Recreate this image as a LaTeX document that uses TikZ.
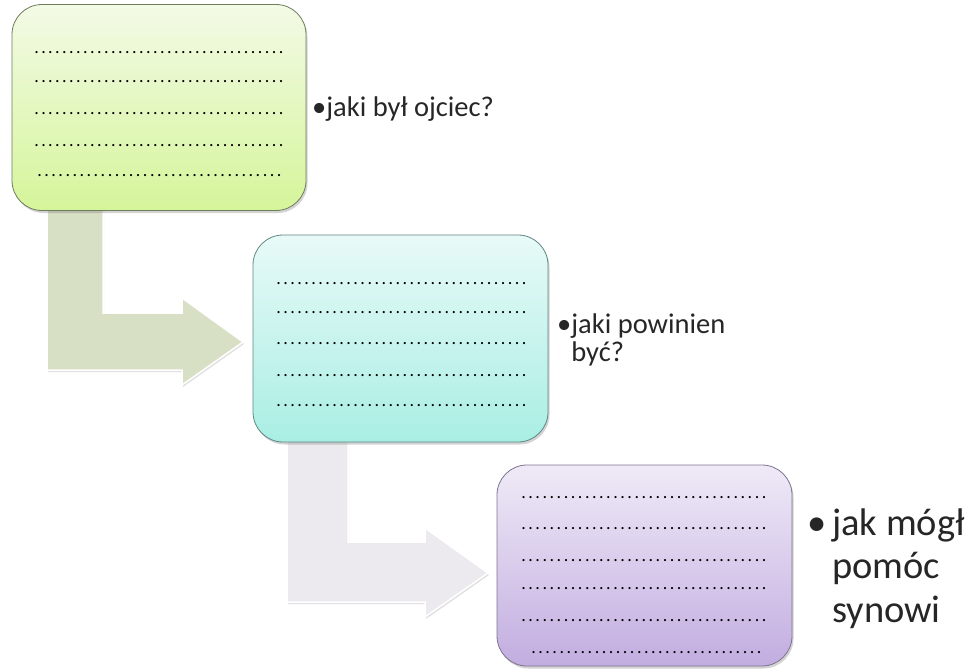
\documentclass[tikz,border=0pt]{standalone}
\usepackage{fontspec}
\setmainfont{Carlito}
\usetikzlibrary{shadows}
\definecolor{limetop}{HTML}{F3FAE6}
\definecolor{limebot}{HTML}{D5F59A}
\definecolor{limeedge}{HTML}{6E7D5E}
\definecolor{aquatop}{HTML}{E8FAF8}
\definecolor{aquabot}{HTML}{A9EEE3}
\definecolor{aquaedge}{HTML}{5E8884}
\definecolor{lilactop}{HTML}{EFEAF7}
\definecolor{lilacbot}{HTML}{C2ADE0}
\definecolor{lilacedge}{HTML}{7C7390}
\definecolor{olivearrow}{HTML}{D7DFC4}
\definecolor{greyarrow}{HTML}{ECEAEE}
\definecolor{inktext}{HTML}{262626}
\newcommand{\dotline}[1]{\hbox to #1{\xleaders\hbox to 6.9pt{\hss.\hss}\hfill}}
\tikzset{
  stagebox/.style 2 args={rounded corners=30pt, draw=#1, line width=0.8pt,
    top color=#2top, bottom color=#2bot, inner sep=0pt,
    drop shadow={opacity=0.35, shadow xshift=1.5pt, shadow yshift=-2.5pt}},
  bentarrow/.style={draw=white, line width=1.5pt, fill=#1,
    drop shadow={opacity=0.25, shadow xshift=1pt, shadow yshift=-2pt}},
  dotrow/.style={anchor=base, inner sep=0pt, font=\fontsize{18}{18}\selectfont, text=black},
  question/.style={anchor=base west, inner sep=0pt, text=inktext}
}
\begin{document}
\begin{tikzpicture}[x=1pt,y=-1pt]
\useasboundingbox (0,0) rectangle (975,669);
% bent arrows behind the boxes
\draw[bentarrow=olivearrow] (47,205) -- (103,205) -- (103,313) -- (182,313) -- (182,298)
  -- (243,342) -- (182,385) -- (182,370) -- (47,370) -- cycle;
\draw[bentarrow=greyarrow] (287,438) -- (348,438) -- (348,542) -- (425,542) -- (425,528)
  -- (488,573) -- (425,617) -- (425,602) -- (287,602) -- cycle;
% boxes
\node[stagebox={limeedge}{lime}, minimum width=294pt, minimum height=206pt] (ojciec) at (159,107.5) {};
\node[stagebox={aquaedge}{aqua}, minimum width=295pt, minimum height=207pt] (powinien) at (400.5,338.5) {};
\node[stagebox={lilacedge}{lilac}, minimum width=295pt, minimum height=201pt] (pomoc) at (644.5,565.5) {};
% dotted rows
\foreach \y [count=\i] in {54,83,114,146}
  \node[dotrow] (ojciec-\i) at (159,\y) {\dotline{252pt}};
\node[dotrow] (ojciec-5) at (159.5,176) {\dotline{247pt}};
\foreach \y [count=\i] in {284,313,344,376,406}
  \node[dotrow] (powinien-\i) at (401.5,\y) {\dotline{253pt}};
\foreach \y [count=\i] in {498,529,561,589,621}
  \node[dotrow] (pomoc-\i) at (644,\y) {\dotline{248pt}};
\node[dotrow] (pomoc-6) at (646.5,653) {\dotline{233pt}};
% questions
\node[question, font=\fontsize{28.5}{27}\selectfont] (q-ojciec) at (312,116) {•jaki był ojciec?};
\node[question, font=\fontsize{28.5}{27.5}\selectfont] (q-powinien) at (557,333)
  {\begin{tabular}[t]{@{}l@{}l@{}}•&jaki powinien\\&być?\end{tabular}};
\node[question, font=\fontsize{38.5}{43.5}\selectfont] (q-pomoc) at (807,535)
  {\begin{tabular}[t]{@{}l@{}l@{}}\makebox[25pt][l]{•}&jak mógł\\&pomóc\\&synowi\end{tabular}};
\end{tikzpicture}
\end{document}
